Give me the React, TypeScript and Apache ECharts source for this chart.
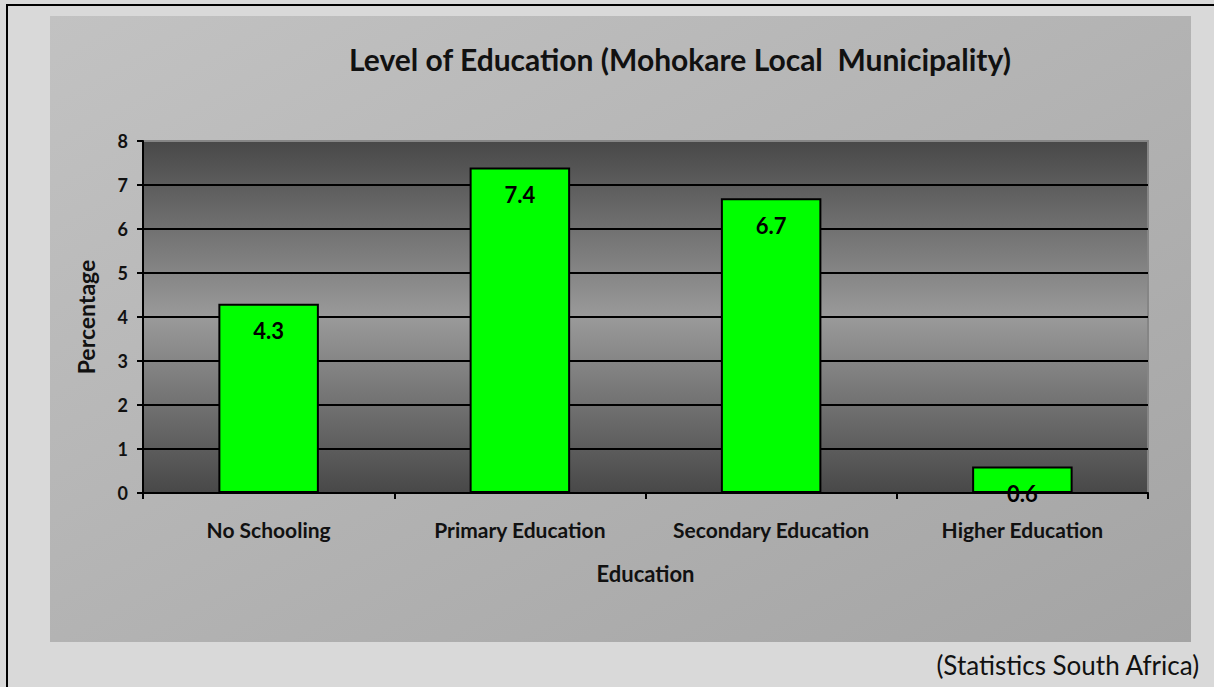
import React, { useEffect, useRef } from "react";
import * as echarts from "echarts";

const categories = ["No Schooling", "Primary Education", "Secondary Education", "Higher Education"];
const values = [4.3, 7.4, 6.7, 0.6];
const titleText = "Level of Education (Mohokare Local  Municipality)";
const sourceText = "(Statistics South Africa)";
const yAxisName = "Percentage";
const xAxisName = "Education";

const FONT = "Lato, 'Open Sans', sans-serif";

export default function App() {
  const ref = useRef<HTMLDivElement>(null);
  useEffect(() => {
    document.body.style.margin = "0";
    const chart = echarts.init(ref.current!, null, { renderer: "svg" });
    chart.setOption({
      animation: false,
      backgroundColor: "#d9d9d9",
      textStyle: { fontFamily: FONT },
      graphic: [
        {
          type: "rect",
          z: -10,
          shape: { x: 50, y: 16, width: 1141, height: 626 },
          style: {
            fill: {
              type: "linear", x: 0, y: 0, x2: 1, y2: 1,
              colorStops: [
                { offset: 0, color: "#c2c2c2" },
                { offset: 1, color: "#a4a4a4" },
              ],
            },
          },
        },
        { type: "line", shape: { x1: 6, y1: 5, x2: 1214, y2: 5 }, style: { stroke: "#000", lineWidth: 2 } },
        { type: "line", shape: { x1: 7, y1: 4, x2: 7, y2: 687 }, style: { stroke: "#000", lineWidth: 2 } },
        {
          type: "text",
          right: 14,
          top: 652,
          style: { text: sourceText, font: `26px ${FONT}`, fill: "#111" },
        },
      ],
      title: {
        text: titleText,
        left: 675,
        textAlign: "center",
        top: 39,
        textStyle: { fontFamily: FONT, fontWeight: "bold", fontSize: 30, color: "#111" },
      },
      grid: {
        left: 143,
        right: 66,
        top: 141,
        bottom: 194,
        show: true,
        borderColor: "#858585",
        borderWidth: 2,
        backgroundColor: {
          type: "linear", x: 0, y: 0, x2: 0, y2: 1,
          colorStops: [
            { offset: 0, color: "#484848" },
            { offset: 0.5, color: "#9a9a9a" },
            { offset: 1, color: "#484848" },
          ],
        },
      },
      xAxis: {
        type: "category",
        data: categories,
        name: xAxisName,
        nameLocation: "middle",
        nameGap: 69,
        nameTextStyle: { fontFamily: FONT, fontWeight: "bold", fontSize: 22, color: "#111" },
        axisLine: { lineStyle: { color: "#000", width: 2 } },
        axisTick: { show: true, interval: 0, length: 6, lineStyle: { color: "#000", width: 2 } },
        axisLabel: { interval: 0, margin: 26, fontFamily: FONT, fontWeight: "bold", fontSize: 21, color: "#111" },
      },
      yAxis: {
        type: "value",
        min: 0,
        max: 8,
        interval: 1,
        name: yAxisName,
        nameLocation: "middle",
        nameGap: 46,
        nameTextStyle: { fontFamily: FONT, fontWeight: "bold", fontSize: 23, color: "#111" },
        axisLine: { show: true, lineStyle: { color: "#000", width: 2 } },
        axisTick: { show: true, length: 6, lineStyle: { color: "#000", width: 2 } },
        axisLabel: { margin: 15, fontFamily: FONT, fontWeight: "bold", fontSize: 18, color: "#111" },
        splitLine: {
          show: true,
          lineStyle: {
            color: ["#000", "#000", "#000", "#000", "#000", "#000", "#000", "#000", "#858585"],
            width: 2,
          },
        },
      },
      series: [
        {
          type: "bar",
          data: values,
          barWidth: "40%",
          itemStyle: { color: "#00ff00", borderColor: "#000", borderWidth: 2 },
          label: {
            show: true,
            position: "insideTop",
            distance: 16,
            fontFamily: FONT,
            fontWeight: "bold",
            fontSize: 22,
            color: "#000",
          },
        },
      ],
    });
    return () => chart.dispose();
  }, []);
  return <div ref={ref} style={{ width: 1214, height: 687 }} />;
}
